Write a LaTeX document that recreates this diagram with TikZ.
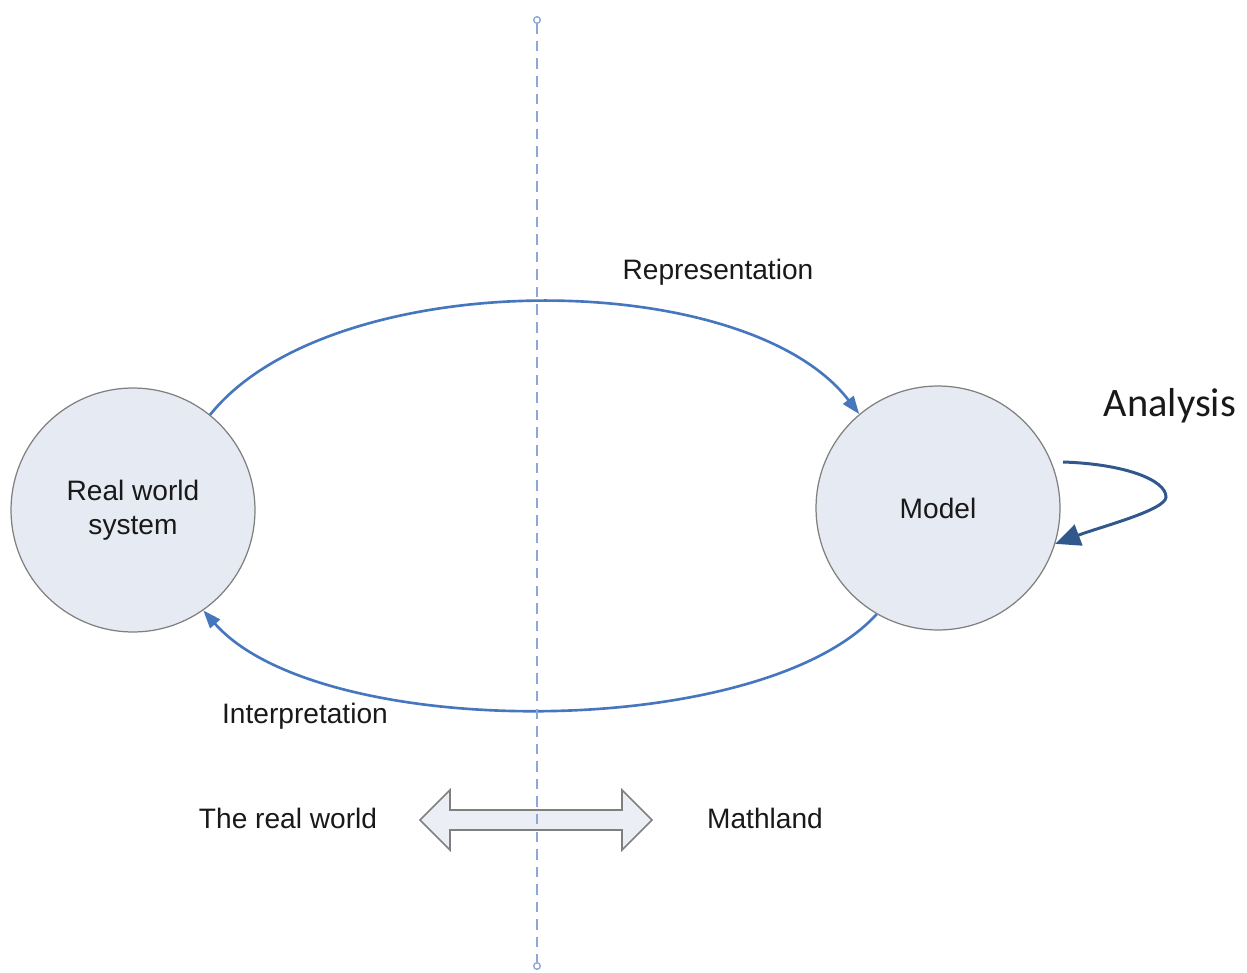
\documentclass[tikz,border=0pt]{standalone}
\usepackage{fontspec}
\setmainfont{Liberation Sans}
\newfontfamily\analysisfont{Carlito}
\usetikzlibrary{arrows.meta}

\definecolor{arcblue}{HTML}{4677BE}
\definecolor{loopblue}{HTML}{30588C}
\definecolor{circfill}{HTML}{E6EAF2}
\definecolor{circline}{HTML}{7F7F7F}
\definecolor{axisblue}{HTML}{8EA8D6}

\tikzset{
  world/.style={circle, draw=circline, line width=0.7pt, fill=circfill,
    minimum size=4.88cm, align=center, text=black!90,
    font=\fontsize{16}{19.5}\selectfont},
  label/.style={text=black!90, font=\fontsize{16}{19}\selectfont},
  flow/.style={arcblue, line width=1.5pt, -{Triangle[length=0.36cm, width=0.26cm]}}
}

\begin{document}
\begin{tikzpicture}[x=0.02cm, y=-0.02cm]
    \useasboundingbox (0, 0) rectangle (1247, 973);
    % the two worlds
    \node [world] (rws) at (133, 510) {Real world\\system};
    \node [world] (model) at (938, 508) {Model};
    % representation and interpretation
    \draw [flow] (rws.51) .. controls (330, 265) and (745, 265) .. (model.130);
    \node [label] (rep) at (718, 272) {Representation};
    \draw [flow] (model.240) .. controls (760, 742) and (319, 742) .. (rws.305);
    \node [label] (interp) at (305, 716) {Interpretation};
    % analysis loop
    \coordinate (loopstart) at (1063, 462);
    \draw [loopblue, line width=1.7pt, -{Triangle[length=0.5cm, width=0.44cm]}]
        (loopstart) .. controls (1125, 464) and (1166, 480) .. (1166, 497)
        .. controls (1166, 510) and (1100, 527) .. (model.-17);
    \node [text=black!90, font=\analysisfont\fontsize{23}{27}\selectfont] (ana) at (1170, 406) {Analysis};
    % the two sides
    \node [label] (real) at (288, 818) {The real world};
    \node [label] (math) at (765, 818) {Mathland};
    \draw [circline, line width=0.9pt, fill=circfill!80]
        (420, 820) -- (450, 790) -- (450, 810) -- (622, 810) -- (622, 790)
        -- (652, 820) -- (622, 850) -- (622, 830) -- (450, 830) -- (450, 850) -- cycle;
    % dividing line
    \coordinate (top) at (537, 16);
    \coordinate (bottom) at (537, 970);
    \draw [axisblue, line width=0.8pt, dash pattern=on 6pt off 4pt,
        {Circle[open, length=0.16cm, fill=white]}-{Circle[open, length=0.16cm, fill=white]}]
        (top) -- (bottom);
\end{tikzpicture}
\end{document}
